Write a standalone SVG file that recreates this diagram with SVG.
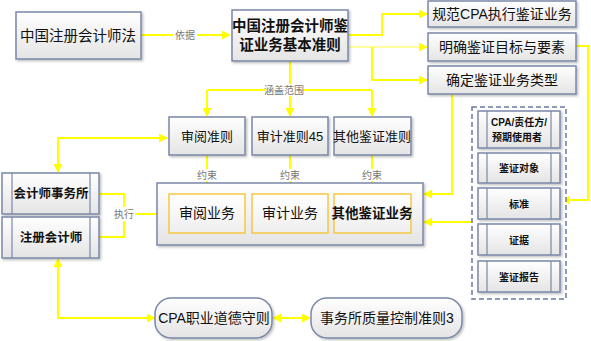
<svg xmlns="http://www.w3.org/2000/svg" width="591" height="341" viewBox="0 0 591 341">
<defs>
<linearGradient id="g" x1="0" y1="0" x2="0" y2="1"><stop offset="0" stop-color="#ffffff"/><stop offset="1" stop-color="#e4e4e4"/></linearGradient>
<linearGradient id="gy" x1="0" y1="0" x2="0" y2="1"><stop offset="0" stop-color="#ffffff"/><stop offset="1" stop-color="#eeeeee"/></linearGradient>
<marker id="ah" viewBox="0 0 10 10" refX="9" refY="5" markerWidth="9" markerHeight="9" markerUnits="userSpaceOnUse" orient="auto-start-reverse"><path d="M0,0 L10,5 L0,10 z" fill="#ffff00"/></marker>
<filter id="sh" x="-10%" y="-10%" width="130%" height="140%"><feDropShadow dx="1.5" dy="1.5" stdDeviation="1" flood-color="#000" flood-opacity="0.25"/></filter>
</defs>
<style>
.b{fill:url(#g);stroke:#7a88a8;stroke-width:1.5;filter:url(#sh)}
.y{fill:url(#gy);stroke:#f5c842;stroke-width:1.5}
.t{font-family:"Liberation Sans","Noto Sans CJK SC",sans-serif;fill:#111;text-anchor:middle;dominant-baseline:central}
.bd{font-weight:bold}
.c{fill:none;stroke:#ffff00;stroke-width:2}
.l{font-family:"Liberation Serif","Noto Sans CJK SC",serif;fill:#777;font-size:10px;text-anchor:middle;dominant-baseline:central}
.in{stroke:#7a88a8;stroke-width:1.2}
</style>

<g id="connectors">
<path class="c" d="M141,35 H230" marker-end="url(#ah)"/>
<path class="c" d="M348,35 H382 V14 H427" marker-end="url(#ah)"/>
<path class="c" d="M348,47 H427" stroke="#ffff99" marker-end="url(#ah)" style="stroke:#ffffa0"/>
<path class="c" d="M372,47 V80 H427" marker-end="url(#ah)"/>
<path class="c" d="M576,46 H588 V200 H562" marker-end="url(#ah)"/>
<path class="c" d="M452,94 V194 H424" marker-end="url(#ah)"/>
<path class="c" d="M472,222 H424" marker-end="url(#ah)"/>
<path class="c" d="M290,61 V116" marker-end="url(#ah)"/>
<path class="c" d="M207,90 H372"/>
<path class="c" d="M207,90 V116" marker-end="url(#ah)"/>
<path class="c" d="M372,90 V116" marker-end="url(#ah)"/>
<path class="c" d="M207,155 V193" marker-end="url(#ah)"/>
<path class="c" d="M290,155 V193" marker-end="url(#ah)"/>
<path class="c" d="M372,155 V193" marker-end="url(#ah)"/>
<path class="c" d="M167,138 H58 V172" marker-start="url(#ah)" marker-end="url(#ah)"/>
<path class="c" d="M99,194 H124 V237 H99"/>
<path class="c" d="M124,214 H167" marker-end="url(#ah)"/>
<path class="c" d="M155,318 H58 V259" marker-start="url(#ah)" marker-end="url(#ah)"/>
<path class="c" d="M273,318 H310" marker-start="url(#ah)" marker-end="url(#ah)"/>
<rect x="173" y="27" width="24" height="15" fill="#fff"/>
<text class="l" x="185" y="35" font-size="11">依据</text>
<rect x="265" y="84" width="38" height="12" fill="#fff"/>
<text class="l" x="284" y="90">涵盖范围</text>
<rect x="196" y="169" width="22" height="12" fill="#fff"/>
<text class="l" x="207" y="175">约束</text>
<rect x="279" y="169" width="22" height="12" fill="#fff"/>
<text class="l" x="290" y="175">约束</text>
<rect x="361" y="169" width="22" height="12" fill="#fff"/>
<text class="l" x="372" y="175">约束</text>
<rect x="113" y="207" width="22" height="14" fill="#fff"/>
<text class="l" x="124" y="214">执行</text>
</g>

<g id="n-law"><rect class="b" x="16" y="12" width="125" height="47"/><text class="t" x="78" y="36" font-size="14.5">中国注册会计师法</text></g>
<g id="n-basic"><rect class="b" x="232" y="10" width="116" height="51"/><text class="t bd" x="290" y="26" font-size="14.5">中国注册会计师鉴</text><text class="t bd" x="290" y="45" font-size="14.5">证业务基本准则</text></g>
<g id="n-r1"><rect class="b" x="428" y="1" width="148" height="26"/><text class="t" x="502" y="14" font-size="14">规范CPA执行鉴证业务</text></g>
<g id="n-r2"><rect class="b" x="428" y="33" width="148" height="28"/><text class="t" x="502" y="47" font-size="14">明确鉴证目标与要素</text></g>
<g id="n-r3"><rect class="b" x="428" y="66" width="148" height="28"/><text class="t" x="502" y="80" font-size="14">确定鉴证业务类型</text></g>

<g id="n-s1"><rect class="b" x="169" y="117" width="76" height="38"/><text class="t" x="207" y="136" font-size="13">审阅准则</text></g>
<g id="n-s2"><rect class="b" x="252" y="117" width="76" height="38"/><text class="t" x="290" y="136" font-size="13">审计准则45</text></g>
<g id="n-s3"><rect class="b" x="334" y="117" width="77" height="38"/><text class="t" x="372" y="136" font-size="13">其他鉴证准则</text></g>

<g id="n-big"><rect class="b" x="157" y="183" width="266" height="62"/></g>
<g id="n-b1"><rect class="y" x="169" y="194" width="76" height="39"/><text class="t" x="207" y="213" font-size="14">审阅业务</text></g>
<g id="n-b2"><rect class="y" x="252" y="194" width="76" height="39"/><text class="t" x="290" y="213" font-size="14">审计业务</text></g>
<g id="n-b3"><rect class="y" x="334" y="194" width="77" height="39"/><text class="t bd" x="372" y="213" font-size="13.5">其他鉴证业务</text></g>

<g id="n-firm"><rect class="b" x="2" y="173" width="97" height="41"/><line class="in" x1="12" y1="173" x2="12" y2="214"/><line class="in" x1="90" y1="173" x2="90" y2="214"/><text class="t bd" x="51" y="194" font-size="12.5">会计师事务所</text></g>
<g id="n-cpa"><rect class="b" x="2" y="217" width="97" height="41"/><line class="in" x1="12" y1="217" x2="12" y2="258"/><line class="in" x1="90" y1="217" x2="90" y2="258"/><text class="t bd" x="51" y="238" font-size="12.5">注册会计师</text></g>

<g id="n-group"><rect x="472" y="107" width="94" height="192" fill="#fff" stroke="#6a7ba0" stroke-width="1.5" stroke-dasharray="5,3"/></g>
<g id="n-e1"><rect class="b" x="478" y="111" width="82" height="37"/><line class="in" x1="487" y1="111" x2="487" y2="148"/><line class="in" x1="551" y1="111" x2="551" y2="148"/><text class="t bd" x="519" y="122" font-size="10">CPA/责任方/</text><text class="t bd" x="517" y="137" font-size="10">预期使用者</text></g>
<g id="n-e2"><rect class="b" x="478" y="153" width="82" height="30"/><line class="in" x1="487" y1="153" x2="487" y2="183"/><line class="in" x1="551" y1="153" x2="551" y2="183"/><text class="t bd" x="519" y="168" font-size="10">鉴证对象</text></g>
<g id="n-e3"><rect class="b" x="478" y="188" width="82" height="31"/><line class="in" x1="487" y1="188" x2="487" y2="219"/><line class="in" x1="551" y1="188" x2="551" y2="219"/><text class="t bd" x="519" y="204" font-size="10">标准</text></g>
<g id="n-e4"><rect class="b" x="478" y="224" width="82" height="31"/><line class="in" x1="487" y1="224" x2="487" y2="255"/><line class="in" x1="551" y1="224" x2="551" y2="255"/><text class="t bd" x="519" y="240" font-size="10">证据</text></g>
<g id="n-e5"><rect class="b" x="478" y="261" width="82" height="31"/><line class="in" x1="487" y1="261" x2="487" y2="292"/><line class="in" x1="551" y1="261" x2="551" y2="292"/><text class="t bd" x="519" y="277" font-size="10">鉴证报告</text></g>

<g id="n-ethic"><rect class="b" x="155" y="298" width="117" height="40" rx="16"/><text class="t" x="214" y="318" font-size="14">CPA职业道德守则</text></g>
<g id="n-qc"><rect class="b" x="311" y="298" width="151" height="40" rx="16"/><text class="t" x="387" y="318" font-size="14">事务所质量控制准则3</text></g>
</svg>
